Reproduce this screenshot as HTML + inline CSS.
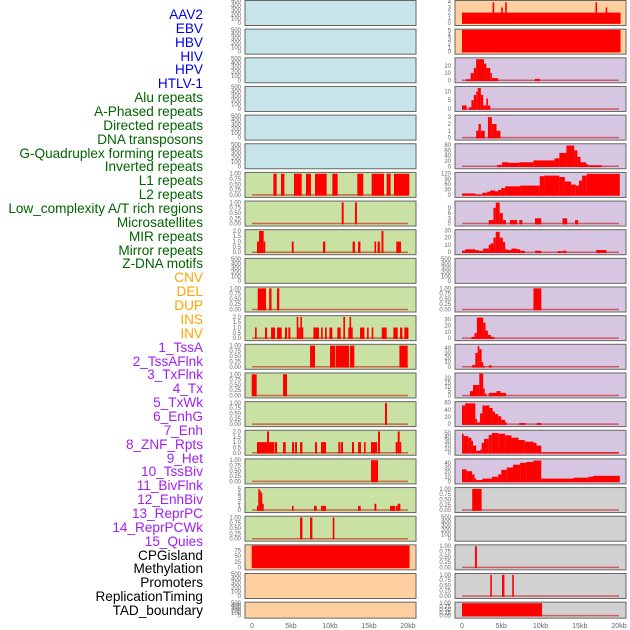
<!DOCTYPE html>
<html><head><meta charset="utf-8">
<style>
body{margin:0;background:#fff;width:630px;height:630px;overflow:hidden;font-family:"Liberation Sans",sans-serif;}
#lab{position:absolute;left:0;top:0;width:203px;height:630px;}
.l{position:absolute;right:0;font-size:13.6px;white-space:nowrap;line-height:14px;}
svg{position:absolute;left:0;top:0;}
</style></head><body>
<div id="lab"></div>
<svg id="c" width="630" height="630"></svg>
<script>
const labelTexts=["AAV2","EBV","HBV","HIV","HPV","HTLV-1","Alu repeats","A-Phased repeats","Directed repeats","DNA transposons","G-Quadruplex forming repeats","Inverted repeats","L1 repeats","L2 repeats","Low_complexity A/T rich regions","Microsatellites","MIR repeats","Mirror repeats","Z-DNA motifs","CNV","DEL","DUP","INS","INV","1_TssA","2_TssAFlnk","3_TxFlnk","4_Tx","5_TxWk","6_EnhG","7_Enh","8_ZNF_Rpts","9_Het","10_TssBiv","11_BivFlnk","12_EnhBiv","13_ReprPC","14_ReprPCWk","15_Quies","CPGisland","Methylation","Promoters","ReplicationTiming","TAD_boundary"];
const labelGroups=[6,13,5,15,5];
const groupColors=["#0000ee","#006400","#ffa500","#a020f0","#000000"];
const xTickLabels=["0","5kb","10kb","15kb","20kb"];
const xTickValues=[0,5,10,15,20];
const T500=[0,100,200,300,400,500];
const T1=[0,0.25,0.5,0.75,1];
const T2=[0,0.5,1,1.5,2];
const leftBg=["b","b","b","b","b","b","g","g","g","g","g","g","g","g","g","g","g","g","g","o","o","o"];
const rightBg=["o","o","p","p","p","p","p","p","p","p","p","p","p","p","p","p","p","y","y","y","y","y"];
const leftTicks=[T500,T500,T500,T500,T500,T500,T1,T1,T2,T500,T1,T2,T1,T1,T1,T2,T1,[0,1,2,3,4,5],T1,[0,25,50,75],T500,T500];
const leftMax=[500,500,500,500,500,500,1.03,1.03,2.05,500,1.03,2.05,1.03,1.03,1.03,2.05,1.03,5.2,1.03,98,500,500];
const rightTicks=[[0,1,2,3,4],[0,1,2,3,4,5],[0,10,20],[0,5,10],[0,1,2,3],[0,20,40,60,80],[0,30,60,90,120],[0,3,6,9],[0,10,20,30],T500,T1,[0,10,20,30],[0,10,20,30,40],[0,5,10,15,20],[0,20,40,60],[0,10,20,30,40,50],[0,10,20,30,40],T1,T500,T1,T1,T1];
const rightMax=[4.2,5.2,30,12.5,3.2,82,122,12.5,30,500,1.03,35,47,25,61,55,47,1.03,500,1.03,1.03,1.03];
const leftSeries=[[],[],[],[],[],[],
[[2.74,3.16,1],[3.72,4.15,1],[5.38,6.37,1],[6.92,7.56,1],[8.08,9.57,1],[10.3,10.98,1],[13.5,14.27,1],[15.34,16.92,1],[17.26,17.77,1],[18.2,20.17,1]],
[[11.5,11.75,1],[13.2,13.45,1]],
[[0.64,0.9,1],[0.9,1.5,2],[1.5,1.6,1],[5.1,5.34,1],[9.1,9.4,1],[12.9,13.2,1],[13.6,13.9,1],[15.7,15.9,1],[16.1,16.4,1],[16.6,16.85,2],[18.5,19.1,1]],
[],
[[0.73,1.8,1],[2.2,2.5,1],[3.2,3.5,1]],
[[0.39,0.6,1],[1.67,1.93,1],[2.44,2.95,1],[3.21,3.81,1],[4.23,4.49,1],[4.66,4.92,1],[5.73,5.94,2],[5.94,6.11,1],[6.16,6.2,1],[6.2,6.37,2],[6.37,6.46,1],[7.87,8.59,1],[8.85,9.06,1],[9.36,9.58,1],[9.92,10.3,1],[10.94,11.37,1],[11.71,11.93,2],[12.35,12.5,1],[12.5,12.7,2],[12.7,12.91,1],[13.85,14.41,1],[14.75,14.96,1],[15.35,15.52,1],[16.63,17.27,1],[18.12,18.68,1],[18.98,19.28,1],[19.53,20.05,1]],
[[7.44,8.08,1],[10.0,10.65,1],[10.73,12.44,1],[12.57,13.12,1],[18.9,19.96,1]],
[[-0.04,0.6,1],[3.98,4.49,1]],
[[17.05,17.31,1]],
[[0.64,1.93,1],[1.93,2.18,2],[2.18,2.87,1],[2.95,3.21,1],[3.98,4.32,1],[5.13,5.39,1],[5.52,5.77,1],[6.16,6.46,1],[8.08,8.34,1],[8.85,9.49,1],[11.07,11.33,1],[11.41,11.67,1],[12.82,13.08,1],[13.6,13.98,1],[14.36,14.49,1],[15.26,16.03,1],[16.16,16.41,2],[18.42,18.68,1],[18.68,18.93,2],[18.93,19.1,1]],
[[15.26,16.16,1]],
[[0.64,0.8,1],[0.8,0.99,5],[0.99,1.11,4.5],[1.11,1.24,4],[1.24,1.5,1.5],[5.13,5.3,1],[7.95,8.3,1],[8.85,9.49,1],[13.6,13.93,1],[15.7,15.94,1.5],[17.7,18.33,1],[18.42,18.68,1],[18.68,19.02,1.5]],
[[6.16,6.46,1],[7.44,7.74,1],[10.35,10.56,1]],
[[-0.04,20.2,98]],
[],[]];
const rightSeries=[
[[0,20.2,2],[3.9,4.1,4],[5.0,5.2,3],[5.5,5.7,4],[17.0,17.2,4],[18.3,18.5,3]],
[[0,20.2,5.2]],
[[0.5,1.1,1.5],[1.1,1.5,10],[1.5,1.8,17],[1.8,2.8,29],[2.8,3.1,23],[3.1,3.6,17],[3.6,3.8,10],[3.8,4.6,3],[9.3,9.9,2]],
[[0.0,0.6,2],[0.9,1.2,1],[1.2,1.5,5],[1.5,1.8,8],[1.8,2.0,10],[2.0,2.4,12],[2.4,2.7,8],[2.7,3.1,2],[3.1,3.3,6],[3.3,3.6,2]],
[[1.8,2.1,1],[2.1,2.4,2],[2.4,2.9,1],[3.3,3.8,3],[3.8,4.4,2],[4.4,4.9,1]],
[[4.5,5.1,5],[5.1,5.9,15],[5.9,7.3,13],[7.3,9.1,15],[9.1,11.8,22],[11.8,12.4,30],[12.4,13.3,50],[13.3,14.3,78],[14.3,14.7,60],[14.7,15.1,35],[15.1,15.8,15],[15.8,16.0,8],[16.0,17.8,4]],
[[0,1.7,8],[1.7,2.6,2],[2.6,3.2,12],[3.2,3.6,18],[3.6,4.2,25],[4.2,4.6,20],[4.6,5.0,28],[5.0,5.5,38],[5.5,7.4,48],[7.4,9.9,52],[9.9,10.5,105],[10.5,12.4,108],[12.4,13.1,100],[13.1,13.9,75],[13.9,14.5,58],[14.5,14.9,52],[14.9,15.3,80],[15.3,15.9,108],[15.9,20.1,118]],
[[3.4,4.0,2],[4.0,4.3,9],[4.3,4.8,12],[4.8,5.2,6],[5.2,5.6,2],[6.1,7.0,2],[7.3,7.7,2],[9.3,10.1,3],[12.8,13.4,3],[14.4,14.8,2]],
[[0,0.4,2],[0.4,1.7,4],[1.7,2.1,3],[2.1,2.7,2],[2.7,3.4,5],[3.4,3.6,10],[3.6,4.0,12],[4.0,4.3,20],[4.3,4.8,28],[4.8,5.2,20],[5.2,5.5,14],[5.5,5.8,4],[5.8,6.3,3],[6.3,7.0,5],[7.0,7.4,4],[7.4,8.0,2],[9.3,10.1,2],[12.2,12.7,1.5],[12.8,13.3,2],[17.1,18.4,3]],
[],
[[9.1,10.1,1]],
[[1.2,1.6,2],[1.6,1.9,8],[1.9,2.7,33],[2.7,3.0,25],[3.0,3.3,12],[3.3,3.7,5],[3.7,4.1,2]],
[[1.3,1.7,4],[1.7,2.0,30],[2.0,2.2,45],[2.2,2.5,38],[2.5,2.7,10],[2.7,2.9,2],[3.4,3.8,3]],
[[1.0,1.4,5],[1.4,1.9,12],[1.9,2.2,12],[2.2,2.7,25],[2.7,2.9,8],[2.9,3.1,2],[3.4,3.8,3],[3.8,4.4,3],[4.4,4.9,5],[4.9,5.6,3]],
[[0,0.4,52],[0.4,1.7,58],[1.7,1.9,15],[1.9,2.3,5],[2.3,2.6,30],[2.6,3.5,52],[3.5,3.9,45],[3.9,4.2,35],[4.2,4.6,28],[4.6,5.0,22],[5.0,5.5,12],[5.5,5.7,5],[7.3,8.1,3],[9.5,10.1,3]],
[[0,0.2,48],[0.2,0.8,42],[0.8,1.2,38],[1.2,1.4,30],[1.4,1.8,18],[1.8,2.3,5],[2.3,2.5,8],[2.5,2.8,25],[2.8,3.4,35],[3.4,3.8,45],[3.8,4.6,50],[4.6,5.5,48],[5.5,6.3,44],[6.3,7.2,38],[7.2,8.0,32],[8.0,9.1,28],[9.1,9.5,25],[9.5,10.1,18],[10.1,20.0,1]],
[[0,0.6,26],[0.6,1.3,22],[1.3,1.6,15],[1.6,1.8,6],[1.8,2.6,3],[2.6,3.8,6],[3.8,4.6,10],[4.6,5.0,15],[5.0,5.7,25],[5.7,6.5,30],[6.5,7.4,36],[7.4,8.2,40],[8.2,9.1,42],[9.1,10.1,45],[10.1,14.2,6],[14.2,16.1,8],[16.1,16.7,10],[16.7,20.1,12]],
[[1.3,2.5,1]],
[],
[[1.65,1.9,1]],
[[3.6,3.8,1],[5.1,5.4,1],[6.4,6.6,1]],
[[0,10.2,1]]];

const NS="http://www.w3.org/2000/svg";
const svg=document.getElementById('c');
const bgColors={b:"#c8e4eb",g:"#c9e1a2",o:"#fed09f",p:"#d6c6e2",y:"#d1d1d1"};
function mk(tag,attrs){const e=document.createElementNS(NS,tag);for(const k in attrs)e.setAttribute(k,attrs[k]);svg.appendChild(e);return e;}
// labels
const lab=document.getElementById('lab');
let gi=0,cnt=0;
labelTexts.forEach((t,i)=>{
  while(cnt>=labelGroups[gi]){cnt=0;gi++;}
  cnt++;
  const d=document.createElement('div');
  d.className='l';d.textContent=t;
  d.style.top=(15+i*13.86-7)+'px';d.style.color=groupColors[gi];
  
  
  lab.appendChild(d);
});
const cols=[{x0:245,w:171,z:252,s:7.8,bg:leftBg,ticks:leftTicks,max:leftMax,data:leftSeries,side:'left'},
            {x0:455,w:171,z:462,s:7.85,bg:rightBg,ticks:rightTicks,max:rightMax,data:rightSeries,side:'right'}];
function fmt(v,ticks){const st=ticks[1]-ticks[0];if(st===0.25)return v.toFixed(2);if(st===0.5)return v.toFixed(1);return String(v);}
for(let r=0;r<22;r++){
  const T=r*28.65,H=(r===21)?16:25;
  cols.forEach(c=>{
    const xs=kb=>c.z+kb*c.s;
    const yTop=T+1.2,yBot=T+H-2;
    const ys=v=>yBot-(v/c.max[r])*(yBot-yTop);
    const bg=mk('rect',{x:c.x0,y:T+0.5,width:c.w,height:H,fill:bgColors[c.bg[r]],stroke:"#666",'stroke-width':1});
    
    
    const d=c.data[r];
    if(d.length){
      const bl=mk('line',{x1:xs(0),x2:xs(20),y1:yBot,y2:yBot,stroke:"rgba(200,0,0,0.55)",'stroke-width':1.5});
      
      
    }
    d.forEach(s=>{
      const x1=Math.max(xs(s[0]),c.x0+1),x2=Math.min(xs(s[1]),c.x0+c.w-1);
      const y=Math.max(ys(s[2]),T+1);
      const b=mk('rect',{x:x1,y:y,width:Math.max(x2-x1,1.6),height:yBot+0.8-y,fill:"#ff0000"});
      
      
    });
    c.ticks[r].forEach(v=>{
      const t=mk('text',{x:c.x0-4,y:ys(v)+2,'font-size':6,'text-anchor':'end',fill:"#666",'font-family':'Liberation Sans, sans-serif'});
      t.textContent=fmt(v,c.ticks[r]);
      
      
    });
  });
}
cols.forEach(c=>{
  xTickValues.forEach((v,i)=>{
    const t=mk('text',{x:c.z+v*c.s,y:628,'font-size':7,'text-anchor':'middle',fill:"#666",'font-family':'Liberation Sans, sans-serif'});
    t.textContent=xTickLabels[i];
    
    
  });
});
</script>
</body></html>
